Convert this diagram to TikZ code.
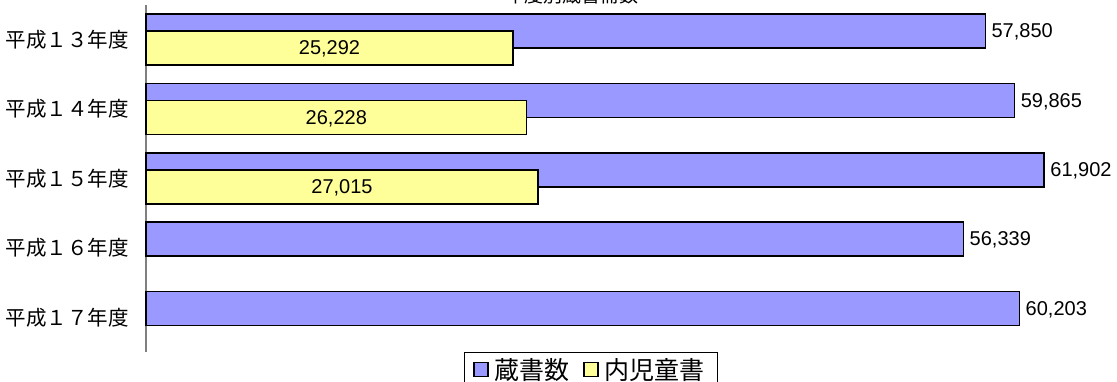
\documentclass[tikz,border=0pt]{standalone}
\usepackage{fontspec}
\setmainfont{Liberation Sans}
\newfontfamily\jp{Noto Sans CJK JP}
\definecolor{barblue}{HTML}{9999FF}
\definecolor{baryellow}{HTML}{FFFF99}
\definecolor{axisgray}{HTML}{808080}
\tikzset{
  barbase/.style={draw=black, line width=1.7pt, inner sep=0pt, outer sep=0pt, minimum height=34pt, anchor=north west},
  bluebar/.style={barbase, fill=barblue},
  yellowbar/.style={barbase, fill=baryellow},
  val/.style={inner sep=0pt, font=\fontsize{20}{20}\selectfont},
  cat/.style={inner sep=0pt, anchor=east, font=\jp\fontsize{20.5}{20.5}\selectfont},
  legtext/.style={inner sep=0pt, anchor=base west, font=\jp\fontsize{25}{25}\selectfont},
  legsq/.style={draw=black, line width=1.5pt, inner sep=0pt, minimum width=14pt, minimum height=14pt},
}
\begin{document}
\begin{tikzpicture}[x=1pt, y=-1pt]
\useasboundingbox (0,0) rectangle (1117,382);
\clip (0,0) rectangle (1117,382);
% title (cut off at top, as in the reference)
\node[inner sep=0pt, anchor=base, font=\jp\fontsize{19}{19}\selectfont] (title) at (572,3) {年度別蔵書冊数};
% axis
\coordinate (axtop) at (146,5);
\coordinate (axbot) at (146,352);
\draw[axisgray, line width=1.5pt] (axtop) -- (axbot);
% blue bars
\node[bluebar, minimum width=839.4pt] (b1) at (146,14) {};
\node[bluebar, minimum width=868.6pt] (b2) at (146,83.4) {};
\node[bluebar, minimum width=898.2pt] (b3) at (146,152.8) {};
\node[bluebar, minimum width=817.5pt] (b4) at (146,222.2) {};
\node[bluebar, minimum width=873.5pt] (b5) at (146,291.6) {};
% yellow bars
\node[yellowbar, minimum width=367.0pt] (y1) at (146,31) {};
\node[yellowbar, minimum width=380.6pt] (y2) at (146,100.4) {};
\node[yellowbar, minimum width=392.0pt] (y3) at (146,169.8) {};
% blue values
\node[val, anchor=west] (vb1) at ([xshift=6pt,yshift=-1pt]b1.east) {57,850};
\node[val, anchor=west] (vb2) at ([xshift=6pt,yshift=-1pt]b2.east) {59,865};
\node[val, anchor=west] (vb3) at ([xshift=6pt,yshift=-1pt]b3.east) {61,902};
\node[val, anchor=west] (vb4) at ([xshift=6pt,yshift=-1pt]b4.east) {56,339};
\node[val, anchor=west] (vb5) at ([xshift=6pt,yshift=-1pt]b5.east) {60,203};
% yellow values
\node[val] (vy1) at ([yshift=-1pt]y1.center) {25,292};
\node[val] (vy2) at ([yshift=-1pt]y2.center) {26,228};
\node[val] (vy3) at ([yshift=-1pt]y3.center) {27,015};
% categories
\node[cat] (c1) at (129,39.7) {平成１３年度};
\node[cat] (c2) at (129,109.1) {平成１４年度};
\node[cat] (c3) at (129,178.5) {平成１５年度};
\node[cat] (c4) at (129,247.9) {平成１６年度};
\node[cat] (c5) at (129,317.3) {平成１７年度};
% legend
\node[draw=black, line width=1pt, inner sep=0pt, outer sep=0pt, minimum width=253pt, minimum height=45pt, anchor=north west] (leg) at (464,352.5) {};
\node[legsq, fill=barblue] (lsq1) at (481,369.7) {};
\node[legtext] (lt1) at (494,379) {蔵書数};
\node[legsq, fill=baryellow] (lsq2) at (591,369.7) {};
\node[legtext] (lt2) at (604,379) {内児童書};
\end{tikzpicture}
\end{document}
